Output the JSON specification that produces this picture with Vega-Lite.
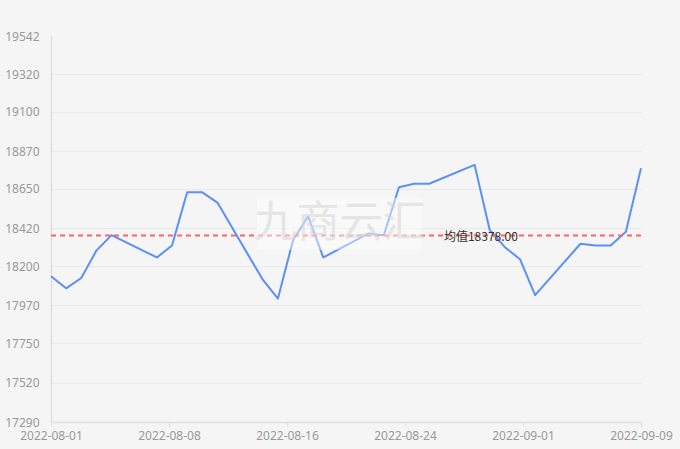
{
  "$schema": "https://vega.github.io/schema/vega-lite/v6.json",
  "autosize": {"type": "none"},
  "width": 590,
  "height": 386,
  "padding": {"left": 51, "top": 36, "right": 39, "bottom": 27},
  "background": "#f5f5f5",
  "config": {
    "view": {"stroke": null},
    "font": "Noto Sans",
    "axis": {
      "labelFont": "Noto Sans",
      "labelFontSize": 12,
      "labelColor": "#999999",
      "domainColor": "#e0e0e0",
      "domainWidth": 1.5,
      "tickColor": "#e0e0e0",
      "gridColor": "#e9e9e9",
      "gridWidth": 1.2,
      "title": null
    }
  },
  "data": {
    "values": [
      {"date": "2022-08-01", "price": 18140},
      {"date": "2022-08-02", "price": 18070},
      {"date": "2022-08-03", "price": 18130},
      {"date": "2022-08-04", "price": 18290},
      {"date": "2022-08-05", "price": 18380},
      {"date": "2022-08-08", "price": 18250},
      {"date": "2022-08-09", "price": 18320},
      {"date": "2022-08-10", "price": 18630},
      {"date": "2022-08-11", "price": 18630},
      {"date": "2022-08-12", "price": 18570},
      {"date": "2022-08-15", "price": 18120},
      {"date": "2022-08-16", "price": 18010},
      {"date": "2022-08-17", "price": 18350},
      {"date": "2022-08-18", "price": 18490},
      {"date": "2022-08-19", "price": 18250},
      {"date": "2022-08-22", "price": 18390},
      {"date": "2022-08-23", "price": 18380},
      {"date": "2022-08-24", "price": 18660},
      {"date": "2022-08-25", "price": 18680},
      {"date": "2022-08-26", "price": 18680},
      {"date": "2022-08-29", "price": 18790},
      {"date": "2022-08-30", "price": 18410},
      {"date": "2022-08-31", "price": 18310},
      {"date": "2022-09-01", "price": 18240},
      {"date": "2022-09-02", "price": 18030},
      {"date": "2022-09-05", "price": 18330},
      {"date": "2022-09-06", "price": 18320},
      {"date": "2022-09-07", "price": 18320},
      {"date": "2022-09-08", "price": 18400},
      {"date": "2022-09-09", "price": 18770}
    ]
  },
  "layer": [
    {
      "mark": {"type": "line", "color": "#5b8ff9", "strokeWidth": 2, "strokeJoin": "round"},
      "encoding": {
        "x": {
          "field": "date",
          "type": "temporal",
          "title": null,
          "scale": {
            "type": "utc",
            "nice": false,
            "domain": [
              {"year": 2022, "month": 8, "date": 1, "utc": true},
              {"year": 2022, "month": 9, "date": 9, "utc": true}
            ]
          },
          "axis": {
            "values": [
              {"year": 2022, "month": 8, "date": 1, "utc": true},
              {"year": 2022, "month": 8, "date": 8, "hours": 19, "minutes": 12, "utc": true},
              {"year": 2022, "month": 8, "date": 16, "hours": 14, "minutes": 24, "utc": true},
              {"year": 2022, "month": 8, "date": 24, "hours": 9, "minutes": 36, "utc": true},
              {"year": 2022, "month": 9, "date": 1, "hours": 4, "minutes": 48, "utc": true},
              {"year": 2022, "month": 9, "date": 9, "utc": true}
            ],
            "tickCount": 20,
            "labelExpr": "utcFormat(datum.value, '%Y-%m-%d')",
            "grid": false,
            "ticks": true,
            "tickSize": 4,
            "labelPadding": 4,
            "labelOverlap": false,
            "labelFlush": false
          }
        },
        "y": {
          "field": "price",
          "type": "quantitative",
          "title": null,
          "scale": {"domain": [17290, 19542], "zero": false, "nice": false},
          "axis": {
            "values": [17290, 17520, 17750, 17970, 18200, 18420, 18650, 18870, 19100, 19320, 19542],
            "tickCount": 20,
            "format": "d",
            "ticks": false,
            "labelPadding": 12,
            "labelOverlap": false,
            "labelFlush": false,
            "grid": true,
            "gridOpacity": {"condition": {"test": "datum.value == 19542", "value": 0}, "value": 1}
          }
        }
      }
    },
    {
      "transform": [{"aggregate": [{"op": "mean", "field": "price", "as": "avg"}]}],
      "mark": {"type": "rule", "color": "#ff6464", "strokeWidth": 1.8, "strokeDash": [5, 4]},
      "encoding": {
        "y": {"field": "avg", "type": "quantitative", "title": null}
      }
    },
    {
      "data": {"values": [{"t": "九商云汇"}]},
      "mark": {"type": "rect", "color": "#ffffff", "opacity": 0.45},
      "encoding": {
        "x": {"datum": {"year": 2022, "month": 8, "date": 14, "hours": 15, "utc": true}, "type": "temporal"},
        "x2": {"datum": {"year": 2022, "month": 8, "date": 25, "hours": 12, "utc": true}},
        "y": {"datum": 18598, "type": "quantitative"},
        "y2": {"datum": 18295}
      }
    },
    {
      "data": {"values": [{"t": "九商云汇"}]},
      "mark": {"type": "text", "font": "Noto Sans CJK SC", "fontSize": 43, "color": "#d6d6d6", "opacity": 0.55, "align": "center", "baseline": "middle"},
      "encoding": {
        "x": {"datum": {"year": 2022, "month": 8, "date": 20, "hours": 2, "utc": true}, "type": "temporal"},
        "y": {"datum": 18446, "type": "quantitative"},
        "text": {"field": "t"}
      }
    },
    {
      "transform": [
        {"aggregate": [{"op": "mean", "field": "price", "as": "avg"}]},
        {"calculate": "'均值' + format(datum.avg, '.2f')", "as": "label"}
      ],
      "mark": {"type": "text", "font": "Noto Sans CJK SC", "fontSize": 12, "color": "#333333", "align": "center", "baseline": "middle", "dy": 1},
      "encoding": {
        "x": {"datum": {"year": 2022, "month": 8, "date": 29, "hours": 10, "utc": true}, "type": "temporal"},
        "y": {"field": "avg", "type": "quantitative", "title": null},
        "text": {"field": "label"}
      }
    }
  ]
}
